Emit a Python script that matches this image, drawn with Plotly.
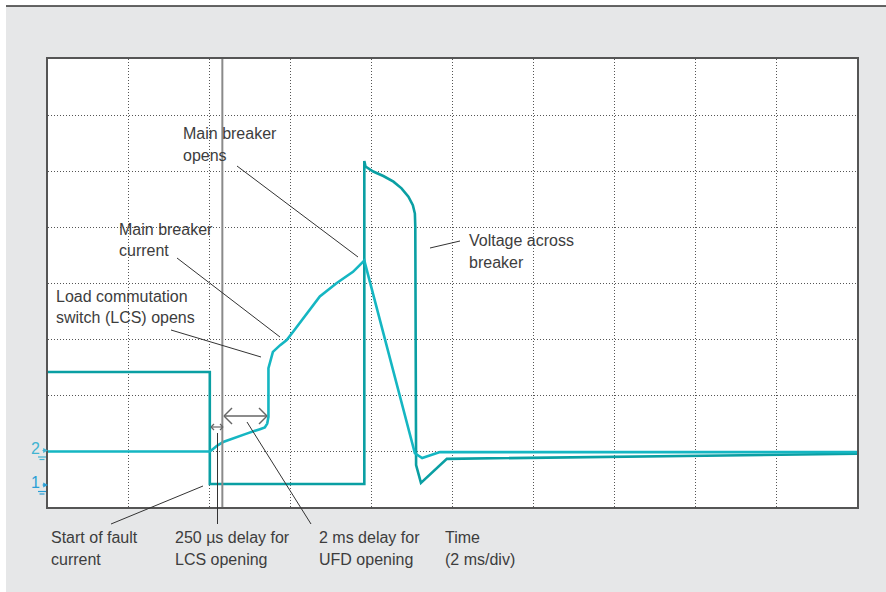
import plotly.graph_objects as go

# Oscilloscope capture: time in ms (2 ms/div), amplitude in screen divisions
time_voltage = [0, 4.0, 4.0, 7.82, 7.82, 7.85, 8.04, 8.29, 8.54, 8.74, 8.91, 9.02,
                9.07, 9.08, 9.10, 9.22, 9.86, 20.0]
voltage_div = [2.41, 2.41, 0.41, 0.41, 6.18, 6.08, 5.99, 5.91, 5.81, 5.69, 5.54, 5.39,
               5.24, 5.01, 0.75, 0.43, 0.86, 0.95]

time_current = [0, 4.0, 4.05, 4.17, 4.33, 4.58, 4.91, 5.24, 5.36, 5.42, 5.45, 5.45,
                5.49, 5.56, 5.74, 5.90, 6.06, 6.40, 6.72, 7.14, 7.54, 7.82, 9.07,
                9.25, 9.69, 20.0]
current_div = [0.99, 0.99, 1.02, 1.09, 1.16, 1.23, 1.31, 1.39, 1.42, 1.49, 1.61, 2.48,
               2.59, 2.77, 2.89, 2.98, 3.13, 3.46, 3.76, 4.00, 4.20, 4.40, 0.96,
               0.875, 0.98, 0.98]

cursor_ms = 4.31

W, H = 886, 592
L, R, T, B = 48, 857, 59, 507

def fx(px):
    return (px - L) / (R - L)

def fy(py):
    return (B - py) / (B - T)

TEXT = "#3d3d3d"
FONT = "Liberation Sans, Arial, sans-serif"

fig = go.Figure()
fig.add_trace(go.Scatter(x=time_voltage, y=voltage_div, mode="lines",
                         line=dict(color="#0a9fa3", width=2.6), hoverinfo="skip"))
fig.add_trace(go.Scatter(x=time_current, y=current_div, mode="lines",
                         line=dict(color="#15b6c2", width=2.6), hoverinfo="skip"))

shapes = []
# white strips framing the grey page and dark rule on top
shapes.append(dict(type="rect", xref="paper", yref="paper", x0=fx(0), x1=fx(W),
                   y0=fy(0), y1=fy(6), fillcolor="white", line_width=0, layer="below"))
shapes.append(dict(type="rect", xref="paper", yref="paper", x0=fx(0), x1=fx(6),
                   y0=fy(0), y1=fy(H), fillcolor="white", line_width=0, layer="below"))
shapes.append(dict(type="line", xref="paper", yref="paper", x0=fx(6), x1=fx(W),
                   y0=fy(6), y1=fy(6), line=dict(color="#333333", width=1.5)))

# cursor line
shapes.append(dict(type="line", xref="x", yref="paper", x0=cursor_ms, x1=cursor_ms,
                   y0=0, y1=1, line=dict(color="#8a8a8a", width=2)))

def seg(x0, y0, x1, y1, color="#333333", width=1):
    shapes.append(dict(type="line", xref="paper", yref="paper", x0=fx(x0), y0=fy(y0),
                       x1=fx(x1), y1=fy(y1), line=dict(color=color, width=width)))

# leader lines
seg(237, 166, 358, 257)     # main breaker opens
seg(177, 258, 280, 337)     # main breaker current
seg(171, 330, 261, 357)     # LCS opens
seg(430, 248, 460, 241)     # voltage across breaker
seg(111, 524, 203, 486)     # start of fault current
seg(217.5, 433, 217.5, 524)  # 250 us delay
seg(247, 422, 311, 524)     # 2 ms delay

# double-headed arrows
def double_arrow(xa, xb, y, head, color="#666666", width=1.5):
    seg(xa, y, xb, y, color, width)
    seg(xa, y, xa + head, y - head, color, width)
    seg(xa, y, xa + head, y + head, color, width)
    seg(xb, y, xb - head, y - head, color, width)
    seg(xb, y, xb - head, y + head, color, width)

double_arrow(224, 267, 416, 8)
double_arrow(211, 223, 427, 3, width=1.2)

# channel ground symbols
for gy, col in [(457, "#40b4d2"), (491.5, "#2a9fd6")]:
    seg(38, gy, 46, gy, col, 1.2)
    seg(39.5, gy + 2.5, 44.5, gy + 2.5, col, 1.2)

annotations = []

def label(x, y, text, size=16, color=TEXT):
    annotations.append(dict(xref="paper", yref="paper", x=fx(x), y=fy(y), text=text,
                            showarrow=False, xanchor="left", yanchor="middle",
                            font=dict(family=FONT, size=size, color=color)))

label(181, 133, "Main breaker")
label(181, 156, "opens")
label(117, 229, "Main breaker")
label(117, 250, "current")
label(54, 296.5, "Load commutation")
label(54, 317, "switch (LCS) opens")
label(467, 240.5, "Voltage across")
label(467, 262, "breaker")
label(49, 537, "Start of fault")
label(49, 559, "current")
label(173, 537, "250 µs delay for")
label(173, 559, "LCS opening")
label(317, 537, "2 ms delay for")
label(317, 559, "UFD opening")
label(443, 537, "Time")
label(443, 559, "(2 ms/div)")

# channel markers
label(29, 448, "2", size=16, color="#40b4d2")
label(29, 482, "1", size=16, color="#2a9fd6")
for py, col in [(450.5, "#40b4d2"), (485, "#2a9fd6")]:
    annotations.append(dict(xref="paper", yref="paper", x=fx(48), y=fy(py),
                            ax=-7, ay=0, axref="pixel", ayref="pixel",
                            text="", showarrow=True, arrowhead=2, arrowsize=0.8,
                            arrowwidth=1.2, arrowcolor=col))

grid_style = dict(showgrid=True, gridcolor="#555555", griddash="1px,2px", gridwidth=1,
                  zeroline=False, showticklabels=False, ticks="", showline=True,
                  mirror=True, linecolor="#555555", linewidth=2, fixedrange=True)

fig.update_layout(
    width=W, height=H,
    margin=dict(l=L, r=W - R, t=T, b=H - B, pad=0),
    paper_bgcolor="#e6e7e8",
    plot_bgcolor="white",
    showlegend=False,
    shapes=shapes,
    annotations=annotations,
    xaxis=dict(range=[0, 20], dtick=2, tick0=0, **grid_style),
    yaxis=dict(range=[0, 8], dtick=1, tick0=0, **grid_style),
)

fig.write_html("out.html")
